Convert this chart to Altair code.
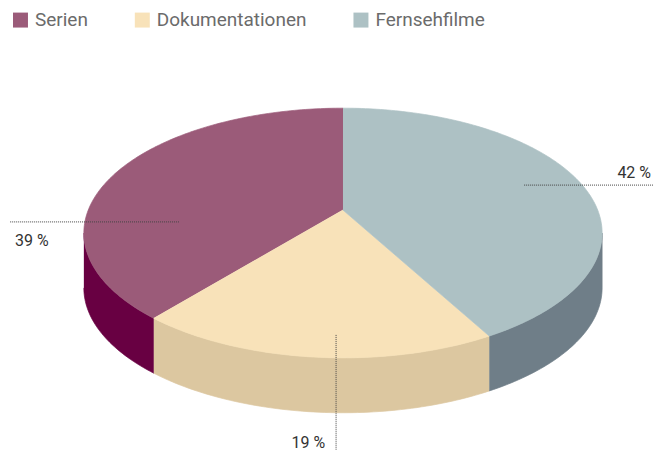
import numpy as np
import pandas as pd
import altair as alt

# ---- data ----
categories = ["Serien", "Dokumentationen", "Fernsehfilme"]
shares = [39, 19, 42]
label_texts = ["39 %", "19 %", "42 %"]
top_colors = ["#9b5b79", "#f8e2b9", "#adc1c4"]
side_colors = ["#680042", "#dcc7a0", "#6f7e88"]

# ---- projection / layout parameters (styles) ----
W, H = 646, 442          # plot area (page px 8..654, 8..450)
OX, OY = 8, 8            # page offset of the plot area
CX, CY = 343.5, 210.0    # apex of the pie on the page
A, B, K = 255.1, 120.8, 0.184
DROP = 55.0              # thickness of the pie

# leader start points as (angle, relative radius); leader end direction
leader_anchor = {"Serien": (188.7, 0.64), "Dokumentationen": (268.5, 0.87), "Fernsehfilme": (16.2, 0.77)}
leader_dir = {"Serien": "left", "Dokumentationen": "down", "Fernsehfilme": "right"}


def proj(theta_deg, r=1.0, drop=0.0):
    t = np.radians(np.asarray(theta_deg, dtype=float))
    X = r * np.cos(t)
    Y = r * np.sin(t)
    w = 1 + K * Y
    return CX + A * X / w, CY - B * Y / w + drop


def arc_angles(a, b):
    n = max(2, int(abs(b - a)) + 1)
    return np.linspace(a, b, n)


total = float(sum(shares))
bounds = 90 + 360 * np.concatenate([[0], np.cumsum(shares)]) / total
vis_lo = 180 + np.degrees(np.arcsin(K))
vis_hi = 360 - np.degrees(np.arcsin(K))

top_rows, side_rows = [], []
for c, a, b in zip(categories, bounds[:-1], bounds[1:]):
    # top face: apex + rim
    xs, ys = proj(arc_angles(a, b))
    pts = [(CX, CY)] + list(zip(xs, ys))
    for i, (x, y) in enumerate(pts):
        top_rows.append({"piece": "top " + c, "x": x, "y": y, "i": i})
    # visible side band
    s, e = max(a, vis_lo), min(b, vis_hi)
    if e > s:
        ang = arc_angles(s, e)
        x1, y1 = proj(ang)
        x2, y2 = proj(ang[::-1], drop=DROP)
        pts = list(zip(x1, y1)) + list(zip(x2, y2))
        for i, (x, y) in enumerate(pts):
            side_rows.append({"piece": "side " + c, "x": x, "y": y, "i": i})

top_df = pd.DataFrame(top_rows)
side_df = pd.DataFrame(side_rows)

# leaders and labels
lead_rows = []
for c, t in zip(categories, label_texts):
    ang, r = leader_anchor[c]
    sx, sy = proj(ang, r)
    sx, sy = float(sx), float(sy)
    d = leader_dir[c]
    if d == "left":
        ex, ey = OX + 2, sy
        tx, ty, al = ex + 5, ey + 24, "left"
    elif d == "right":
        ex, ey = OX + W, sy
        tx, ty, al = ex - 2, ey - 7, "right"
    else:
        ex, ey = sx, OY + H
        tx, ty, al = ex - 11, ey - 2, "right"
    lead_rows.append({"cat": c, "text": t, "x": sx, "y": sy, "x2": ex, "y2": ey,
                      "tx": tx, "ty": ty, "align": al})
lead_df = pd.DataFrame(lead_rows)

legend_df = pd.DataFrame({"cat": categories, "x": [CX] * 3, "y": [CY] * 3})

xs_scale = alt.Scale(domain=[OX, OX + W], zero=False, nice=False)
ys_scale = alt.Scale(domain=[OY, OY + H], zero=False, nice=False, reverse=True)
X = lambda f: alt.X(f, scale=xs_scale, axis=None)
Y = lambda f: alt.Y(f, scale=ys_scale, axis=None)

piece_domain = ["side " + c for c in categories] + ["top " + c for c in categories]
piece_range = side_colors + top_colors

legend_layer = alt.Chart(legend_df).mark_square(size=1, opacity=1).encode(
    x=X("x:Q"), y=Y("y:Q"),
    color=alt.Color("cat:N", scale=alt.Scale(domain=categories, range=top_colors),
                    sort=categories,
                    legend=alt.Legend(title=None, orient="none", legendX=3, legendY=2,
                                      direction="horizontal", symbolType="square",
                                      symbolSize=225, symbolStrokeWidth=0, symbolOpacity=1,
                                      labelFont="Roboto", labelFontSize=19,
                                      labelColor="#6b6b6b", labelOffset=5,
                                      columnPadding=45, padding=0)),
)


def poly(df):
    return alt.Chart(df).mark_line(strokeWidth=0.7, strokeJoin="round").encode(
        x=X("x:Q"), y=Y("y:Q"), order="i:Q", detail="piece:N",
        fill=alt.Fill("piece:N", scale=alt.Scale(domain=piece_domain, range=piece_range), legend=None),
        stroke=alt.Stroke("piece:N", scale=alt.Scale(domain=piece_domain, range=piece_range), legend=None),
    )


leaders = alt.Chart(lead_df).mark_rule(strokeDash=[1, 1], color="#444444", strokeWidth=1).encode(
    x=X("x:Q"), y=Y("y:Q"), x2="x2:Q", y2="y2:Q")

labels_left = alt.Chart(lead_df).transform_filter("datum.align == 'left'").mark_text(
    align="left", baseline="alphabetic", font="Roboto", fontSize=16, color="#333333").encode(
    x=X("tx:Q"), y=Y("ty:Q"), text="text:N")
labels_right = alt.Chart(lead_df).transform_filter("datum.align == 'right'").mark_text(
    align="right", baseline="alphabetic", font="Roboto", fontSize=16, color="#333333").encode(
    x=X("tx:Q"), y=Y("ty:Q"), text="text:N")

chart = alt.layer(legend_layer, poly(side_df), poly(top_df), leaders, labels_left, labels_right).properties(
    width=W, height=H, padding=0, background="white",
).resolve_scale(fill="independent", stroke="independent").configure_view(stroke=None)

chart.save("out.html", embed_options={"renderer": "svg", "actions": False})
